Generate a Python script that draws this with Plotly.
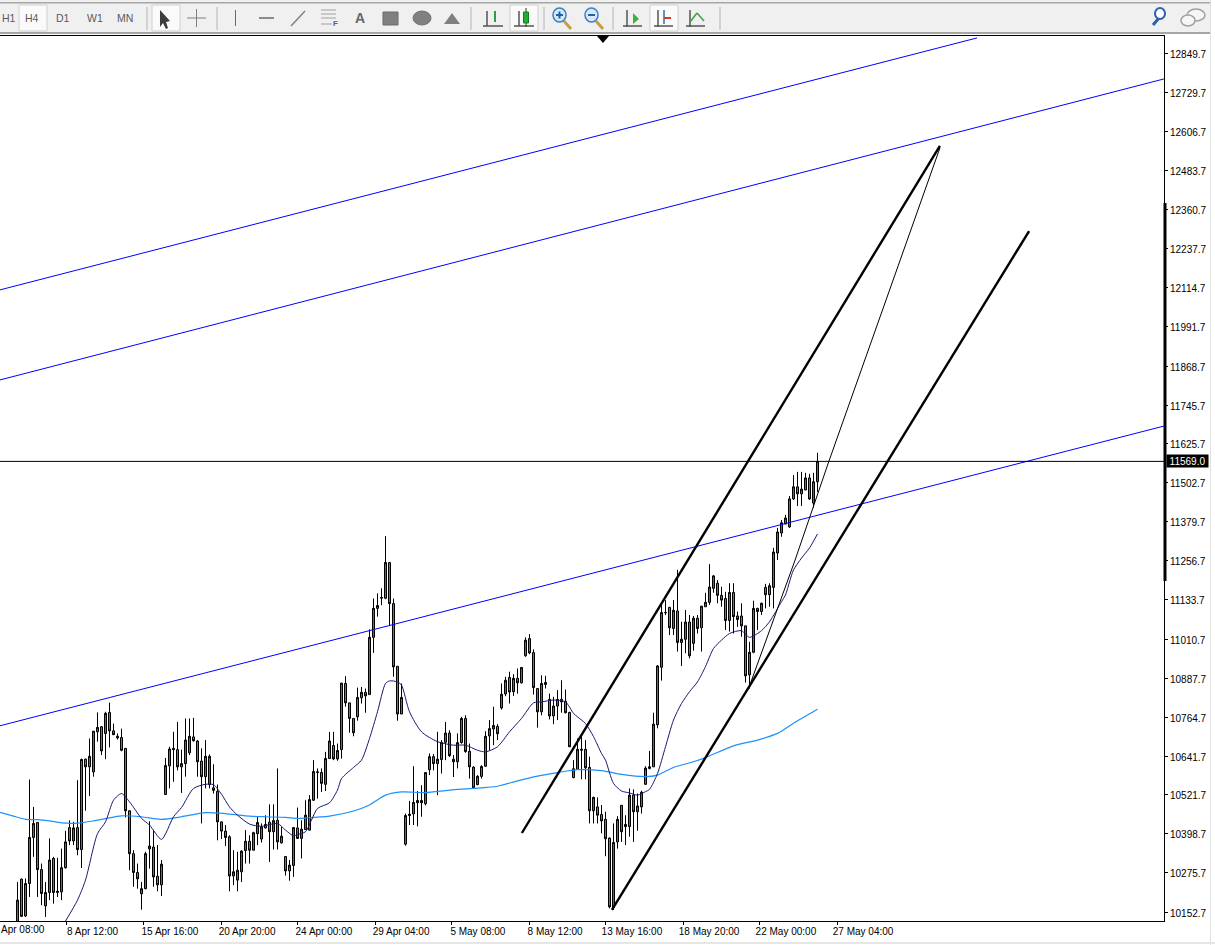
import plotly.graph_objects as go

# ---------- price data (one entry per H4 bar) ----------
opens = [10110,10256,10140,10242,10387,10434,10286,10172,10214,10321,
10214,10216,10292,10418,10376,10418,10349,10633,10609,10593,
10719,10735,10714,10780,10722,10705,10701,10667,10471,10336,
10277,10210,10226,10351,10357,10265,10238,10522,10612,10667,
10663,10609,10619,10653,10703,10690,10627,10578,10553,10543,
10532,10436,10407,10389,10266,10253,10279,10346,10375,10347,
10399,10382,10417,10435,10405,10441,10370,10327,10282,10299,
10417,10384,10412,10410,10504,10591,10591,10554,10635,10676,
10634,10663,10871,10810,10761,10766,10826,10843,10836,11016,
11107,11139,11139,11251,11122,10925,10775,10366,10456,10461,
10496,10496,10493,10600,10641,10619,10632,10686,10715,10633,
10625,10685,10761,10658,10608,10553,10579,10611,10706,10728,
10736,10794,10838,10890,10845,10887,10873,10958,11012,10968,
10855,10782,10868,10821,10769,10800,10821,10815,10780,10575,
10601,10661,10664,10607,10471,10483,10459,10444,10385,10167,
10373,10488,10421,10421,10520,10468,10483,10554,10604,10609,
10741,10922,11093,11110,11044,11099,11000,11010,11064,10997,
11076,11046,11112,11126,11170,11186,11148,11138,11069,11157,
11083,11083,11052,10898,10969,11107,11097,11173,11150,11173,
11281,11344,11372,11363,11451,11489,11467,11479,11517,11438,11505]
closes = [10190,10139,10242,10387,10431,10286,10211,10214,10316,10214,
10218,10292,10373,10376,10417,10349,10632,10609,10642,10721,
10733,10659,10777,10722,10710,10700,10661,10471,10336,10277,
10257,10226,10336,10360,10263,10238,10303,10613,10665,10663,
10609,10619,10693,10705,10691,10625,10578,10642,10642,10535,
10436,10407,10387,10266,10279,10284,10344,10375,10347,10402,
10434,10420,10428,10405,10440,10373,10391,10282,10300,10418,
10384,10413,10457,10506,10594,10593,10557,10635,10690,10634,
10660,10872,10810,10761,10716,10827,10843,10832,11016,11107,
11116,11141,11251,11122,10923,10775,10827,10456,10460,10497,
10503,10503,10591,10641,10619,10633,10686,10715,10644,10625,
10685,10761,10657,10609,10543,10579,10610,10705,10729,10739,
10713,10837,10881,10844,10887,10873,10921,11007,10967,10858,
10782,10871,10874,10769,10800,10821,10813,10779,10672,10603,
10664,10664,10606,10471,10513,10457,10439,10383,10169,10371,
10444,10405,10428,10520,10468,10486,10529,10605,10609,10743,
10926,11094,11094,11046,11101,11000,11010,11064,10958,11076,
11044,11114,11126,11174,11209,11148,11133,11069,11157,11081,
11072,11052,10895,10969,11107,11097,11123,11150,11178,11284,
11347,11376,11391,11451,11489,11467,11482,11517,11451,11505,11569]
highs = [10247,10258,10258,10569,10483,10436,10305,10247,10384,10326,
10323,10352,10408,10441,10436,10567,10635,10635,10698,10721,
10780,10737,10782,10811,10745,10714,10729,10667,10471,10347,
10305,10247,10342,10438,10410,10363,10316,10637,10672,10719,
10750,10663,10761,10761,10763,10693,10667,10693,10648,10617,
10553,10436,10426,10394,10347,10342,10347,10410,10394,10405,
10452,10431,10457,10491,10491,10604,10420,10327,10316,10420,
10481,10441,10504,10520,10630,10604,10604,10656,10719,10719,
10682,10873,10894,10810,10761,10858,10860,10855,11041,11138,
11154,11170,11334,11253,11138,10925,10871,10462,10502,10611,
10533,10551,10591,10651,10649,10719,10693,10750,10724,10646,
10714,10766,10771,10682,10611,10583,10614,10721,10756,10798,
10743,10871,10892,10908,10900,10918,10923,11016,11026,10978,
10855,10897,10895,10839,10829,10850,10881,10852,10782,10630,
10698,10704,10693,10641,10515,10513,10489,10468,10387,10431,
10454,10489,10457,10541,10538,10525,10534,10611,10659,10779,
10929,11123,11133,11112,11133,11228,11065,11102,11086,11083,
11086,11114,11156,11246,11212,11196,11175,11159,11186,11186,
11097,11123,11052,11002,11131,11109,11125,11184,11186,11297,
11360,11385,11401,11460,11526,11536,11536,11533,11530,11533,11596]
lows = [10100,10137,10137,10200,10326,10200,10174,10137,10190,10179,
10200,10190,10289,10363,10363,10331,10291,10471,10517,10578,
10688,10646,10633,10670,10709,10695,10658,10450,10284,10232,
10226,10160,10224,10289,10232,10218,10203,10522,10541,10562,
10598,10527,10578,10646,10688,10578,10431,10541,10541,10525,
10378,10382,10360,10218,10237,10218,10247,10305,10305,10347,
10363,10371,10415,10310,10349,10349,10368,10267,10251,10263,
10382,10321,10410,10410,10502,10509,10530,10533,10635,10630,
10628,10635,10798,10716,10705,10754,10808,10779,10836,10967,
11081,11117,11136,11051,10892,10754,10775,10361,10426,10426,
10422,10452,10488,10583,10598,10520,10588,10630,10640,10577,
10604,10682,10653,10572,10541,10551,10572,10609,10661,10677,
10693,10789,10831,10808,10832,10839,10871,10955,10963,10836,
10732,10771,10855,10758,10743,10756,10779,10777,10672,10573,
10599,10570,10570,10431,10431,10431,10400,10328,10164,10159,
10352,10373,10363,10389,10373,10408,10462,10552,10601,10609,
10730,10880,11086,11023,11023,10971,10926,10966,10950,10974,
11028,10971,11112,11118,11156,11123,11112,11039,11034,11028,
11049,11018,10874,10855,10966,11039,11086,11107,11112,11107,
11259,11332,11372,11360,11448,11429,11429,11479,11448,11423,11473]
bars = list(range(len(closes)))

# moving averages (bar number, price)
fast_ma_bars = [12,15,17,20,22,24,26,28,31,33,36,39,41,44,47,49,51,53,55,58,61,65,67,69,70,
72,75,78,80,81,84,86,88,90,92,93,95,96,98,101,105,109,112,115,117,120,123,126,129,131,134,137,139,
140,142,144,146,147,149,151,153,155,157,158,160,162,164,166,168,170,172,174,176,178,181,183,186,188,
191,192,193,194,196,198,200]
fast_ma = [10124,10190,10253,10399,10436,10504,10525,10499,10447,10426,10381,10452,10481,10541,10554,10553,10523,10483,10457,10429,10422,10431,10410,10392,10396,
10405,10478,10496,10536,10572,10607,10630,10698,10782,10871,10879,10876,10866,10782,10719,10688,10677,10677,10661,10656,10672,10719,10761,10810,10813,10819,10813,10777,
10766,10745,10704,10651,10630,10557,10533,10527,10520,10531,10538,10588,10672,10756,10808,10845,10876,10924,10981,11007,11028,11037,11016,11037,11065,
11128,11149,11190,11228,11265,11297,11341]
slow_ma_bars = [-5,-1,2,5,8,11,15,19,22,26,31,36,41,44,47,52,57,62,67,70,
72,78,84,88,92,96,102,108,114,120,125,130,135,140,146,151,157,160,164,169,172,179,185,190,194,200]
slow_ma = [10468,10454,10444,10443,10439,10433,10432,10439,10446,10455,10452,10444,10452,10459,10465,10462,10455,10452,10450,10447,
10448,10454,10470,10489,10520,10530,10528,10536,10541,10548,10565,10580,10591,10600,10597,10585,10578,10583,10607,10625,10638,10675,10693,10714,10746,10790]

# drawn objects: (bar numbers, prices)
blue_line_1 = ([-4.375, 239.9], [12108, 12900])
blue_line_2 = ([-4.375, 286.6], [11825, 12771])
blue_line_3 = ([-4.375, 286.6], [10738, 11680])
channel_upper = ([126.1, 230.6], [10401, 12561])
channel_lower = ([148.6, 252.9], [10159, 12293])
thin_line = ([183.2, 194.4, 202.7, 230.6], [10870, 11259, 11564, 12554])
last_price = 11569.0
price_scale_top = 12381
price_scale_bottom = 11193

# axes
y_ticks = [12849.7,12729.7,12606.7,12483.7,12360.7,12237.7,12114.7,11991.7,11868.7,11745.7,11625.7,11502.7,
           11379.7,11256.7,11133.7,11010.7,10887.7,10764.7,10641.7,10521.7,10398.7,10275.7,10152.7]
x_tick_bars = [12.25,31.6,50.9,70.1,89.4,108.6,127.9,147.1,166.4,185.6,204.9]
x_tick_text = ["8 Apr 12:00","15 Apr 16:00","20 Apr 20:00","24 Apr 00:00","29 Apr 04:00","5 May 08:00",
               "8 May 12:00","13 May 16:00","18 May 20:00","22 May 00:00","27 May 04:00"]
x_range = [-4.375, 286.625]
y_range = [10124.4, 12906]

FONT = "Liberation Sans"
L, R, T, B = 0, 1164, 36, 921
def X(px): return (px - L) / (R - L)
def Y(py): return (B - py) / (B - T)

fig = go.Figure()
fig.add_trace(go.Candlestick(
    x=bars, open=opens, high=highs, low=lows, close=closes, whiskerwidth=0,
    increasing=dict(line=dict(color="#000000", width=1), fillcolor="#2e8b57"),
    decreasing=dict(line=dict(color="#000000", width=1), fillcolor="#ff4500"),
    hoverinfo="skip", showlegend=False))

def line(pts, color, width, shape="linear"):
    fig.add_trace(go.Scatter(x=pts[0], y=pts[1], mode="lines",
                             line=dict(color=color, width=width, shape=shape, smoothing=0.7),
                             hoverinfo="skip", showlegend=False))

line((slow_ma_bars, slow_ma), "#1e90ff", 1.2, "spline")
line((fast_ma_bars, fast_ma), "#191970", 1, "spline")
line(blue_line_1, "#0000ff", 1)
line(blue_line_2, "#0000ff", 1)
line(blue_line_3, "#0000ff", 1)
line(channel_upper, "#000000", 2.4)
line(channel_lower, "#000000", 2.4)
line(thin_line, "#000000", 1)

shapes, notes = [], []
def rect(x0, y0, x1, y1, fill="rgba(0,0,0,0)", color=None, w=1):
    shapes.append(dict(type="rect", xref="paper", yref="paper", x0=X(x0), x1=X(x1), y0=Y(y0), y1=Y(y1),
                       fillcolor=fill, line=dict(color=color or fill, width=w if color else 0), layer="above"))
def seg(x0, y0, x1, y1, color="#707070", w=1):
    shapes.append(dict(type="line", xref="paper", yref="paper", x0=X(x0), x1=X(x1), y0=Y(y0), y1=Y(y1),
                       line=dict(color=color, width=w), layer="above"))
def oval(x0, y0, x1, y1, fill="rgba(0,0,0,0)", color="#808080", w=1):
    shapes.append(dict(type="circle", xref="paper", yref="paper", x0=X(x0), x1=X(x1), y0=Y(y0), y1=Y(y1),
                       fillcolor=fill, line=dict(color=color, width=w), layer="above"))
def poly(pts, fill):
    d = "M" + " L".join(f"{X(a):.5f},{Y(b):.5f}" for a, b in pts) + " Z"
    shapes.append(dict(type="path", xref="paper", yref="paper", path=d, fillcolor=fill,
                       line=dict(color=fill, width=0), layer="above"))
def label(px, py, s, size=10, color="#5a5a5a", bold=False):
    notes.append(dict(xref="paper", yref="paper", x=X(px), y=Y(py), xanchor="center", yanchor="middle",
                      text=f"<b>{s}</b>" if bold else s,
                      showarrow=False, font=dict(family=FONT, size=size, color=color)))

# toolbar background
rect(0, 0, 1210, 34, "#f0f0f0")
rect(0, 2, 1210, 3.5, "#a6a6a6")
rect(0, 32, 1210, 34, "#a6a6a6")
# buttons
for a, b in [(19, 47), (152, 180), (510, 538), (650, 678)]:
    rect(a, 5, b, 31, "#fafafa", "#d0d0d0")
for xx in [147, 217, 471, 544, 613, 720]:
    seg(xx, 7, xx, 30, "#b4b4b4")
for s, xx in [("H4", 32), ("D1", 63), ("W1", 95), ("MN", 125)]:
    label(xx, 18.5, s, 10.5)
notes.append(dict(xref="paper", yref="paper", x=X(0), y=Y(18.5), xanchor="left", yanchor="middle", text="H1",
                  showarrow=False, font=dict(family=FONT, size=10.5, color="#5a5a5a")))
# arrow
poly([(160, 10), (160, 27), (163, 23), (166, 29), (168, 28), (166, 22), (170, 21)], "#3c3c3c")
# crosshair
seg(196.5, 9, 196.5, 27, "#808080"); seg(187, 18, 206, 18, "#808080")
# drawing tools
seg(235.5, 10, 235.5, 26, "#6a6a6a")
seg(259, 18, 274, 18, "#6a6a6a", 1.5)
seg(291, 26, 305, 11, "#808080", 1.5)
for yy in [10, 14, 18, 24]:
    seg(321, yy, 332 if yy == 24 else 336, yy, "#a0a0a0")
label(335, 24, "F", 8, "#606060", True)
label(359.5, 18, "A", 14, "#666666", True)
rect(383, 12, 398, 25, "#808080", "#6a6a6a")
oval(413, 11, 431, 25, "#808080", "#707070")
poly([(444, 24), (452, 13), (460, 24)], "#808080")
# chart type icons
seg(487, 11, 487, 26, "#555555", 1.5); seg(483, 26, 503, 26, "#555555", 1.5)
seg(495, 11, 495, 22, "#2f9e3f", 2)
seg(519, 11, 519, 26, "#555555", 1.5); seg(514, 26, 534, 26, "#555555", 1.5)
seg(526, 8, 526, 27, "#333333", 1); rect(523.5, 12, 528.5, 23, "#20b030", "#157a20")
# magnifiers
for cx, col in [(560, "#3f7fc0"), (592, "#3f7fc0")]:
    seg(cx + 4, 21, cx + 11, 29, "#c8a040", 3)
    oval(cx - 7, 8, cx + 6, 22, "#d6e8fa", col, 1.5)
    seg(cx - 4, 15, cx + 3, 15, "#2060a0", 2)
seg(559.5, 11.5, 559.5, 18.5, "#2060a0", 2)
# shift / scroll / indicator icons
seg(627, 10, 627, 27, "#555555", 1.5); seg(623, 26, 642, 26, "#555555", 1.5)
poly([(633, 13), (639, 19), (633, 24)], "#40b040")
seg(658, 10, 658, 27, "#555555", 1.5); seg(654, 26, 673, 26, "#555555", 1.5)
seg(664, 10, 664, 24, "#2a6fc0", 1.5); seg(664, 18, 671, 18, "#d04020", 2)
seg(690, 10, 690, 27, "#555555", 1.5); seg(686, 26, 705, 26, "#555555", 1.5)
seg(690, 22, 697, 13, "#40a040", 1.5); seg(697, 13, 704, 21, "#40a040", 1.5)
# search and chat icons
seg(1153, 25, 1159, 18, "#2c5fb0", 3)
oval(1155, 8, 1165, 19, "rgba(255,255,255,0.9)", "#2c5fb0", 2)
oval(1187, 9, 1205, 21, "#f6f6f6", "#a0a0a0", 1.5)
oval(1181, 15, 1195, 26, "#f6f6f6", "#a0a0a0", 1.5)
# window edges
seg(1210.5, 0, 1210.5, 945, "#e0e0e0", 1)
seg(0, 943, 1215, 943, "#e6e6e6", 2)
# marker on top of the chart
poly([(597, 36), (609, 36), (603, 43)], "#000000")
# thick part of the price scale
shapes.append(dict(type="line", xref="paper", yref="y", x0=X(1165), x1=X(1165), y0=price_scale_bottom,
                   y1=price_scale_top, line=dict(color="#000000", width=3), layer="above"))
# last price line
shapes.append(dict(type="line", xref="paper", yref="y", x0=0, x1=1, y0=last_price, y1=last_price,
                   line=dict(color="#000000", width=1), layer="above"))
# last price tag
notes.append(dict(xref="paper", yref="y", x=X(1166), y=last_price, xanchor="left", yanchor="middle",
                  text=f"{last_price:.1f}", width=41, height=12, align="center",
                  showarrow=False, bgcolor="#000000", borderpad=0,
                  font=dict(family=FONT, size=10, color="#ffffff")))
# first date label at the left edge
notes.append(dict(xref="paper", yref="paper", x=X(0), y=Y(923), xanchor="left", yanchor="top",
                  text="Apr 08:00", showarrow=False, borderpad=0, font=dict(family=FONT, size=10, color="#000000")))

fig.update_layout(
    width=1215, height=945, template="none", showlegend=False,
    paper_bgcolor="#ffffff", plot_bgcolor="#ffffff",
    margin=dict(l=L, r=1215 - R, t=T, b=945 - B, autoexpand=False),
    font=dict(family=FONT, size=10, color="#000000"),
    hovermode=False, shapes=shapes, annotations=notes, boxgap=0.5, boxgroupgap=0,
    xaxis=dict(range=x_range, rangeslider=dict(visible=False), showgrid=False, zeroline=False,
               showline=True, mirror=True, linecolor="#000000", linewidth=1,
               ticks="outside", ticklen=3, tickcolor="#000000", tickmode="array",
               tickvals=x_tick_bars, ticktext=x_tick_text, tickangle=0, ticklabelshift=26,
               ticklabelstandoff=-2,
               tickfont=dict(family=FONT, size=10, color="#000000")),
    yaxis=dict(range=y_range, side="right", showgrid=False, zeroline=False, showline=True,
               linecolor="#000000", linewidth=1, ticks="outside", ticklen=3, tickcolor="#000000",
               tickmode="array", tickvals=y_ticks, ticktext=[f"{v:.1f}" for v in y_ticks],
               ticklabelshift=1, tickfont=dict(family=FONT, size=10, color="#000000")),
)

fig.write_html("out.html", config=dict(displayModeBar=False),
               post_script="document.body.style.margin='0';document.body.style.overflow='hidden';")
